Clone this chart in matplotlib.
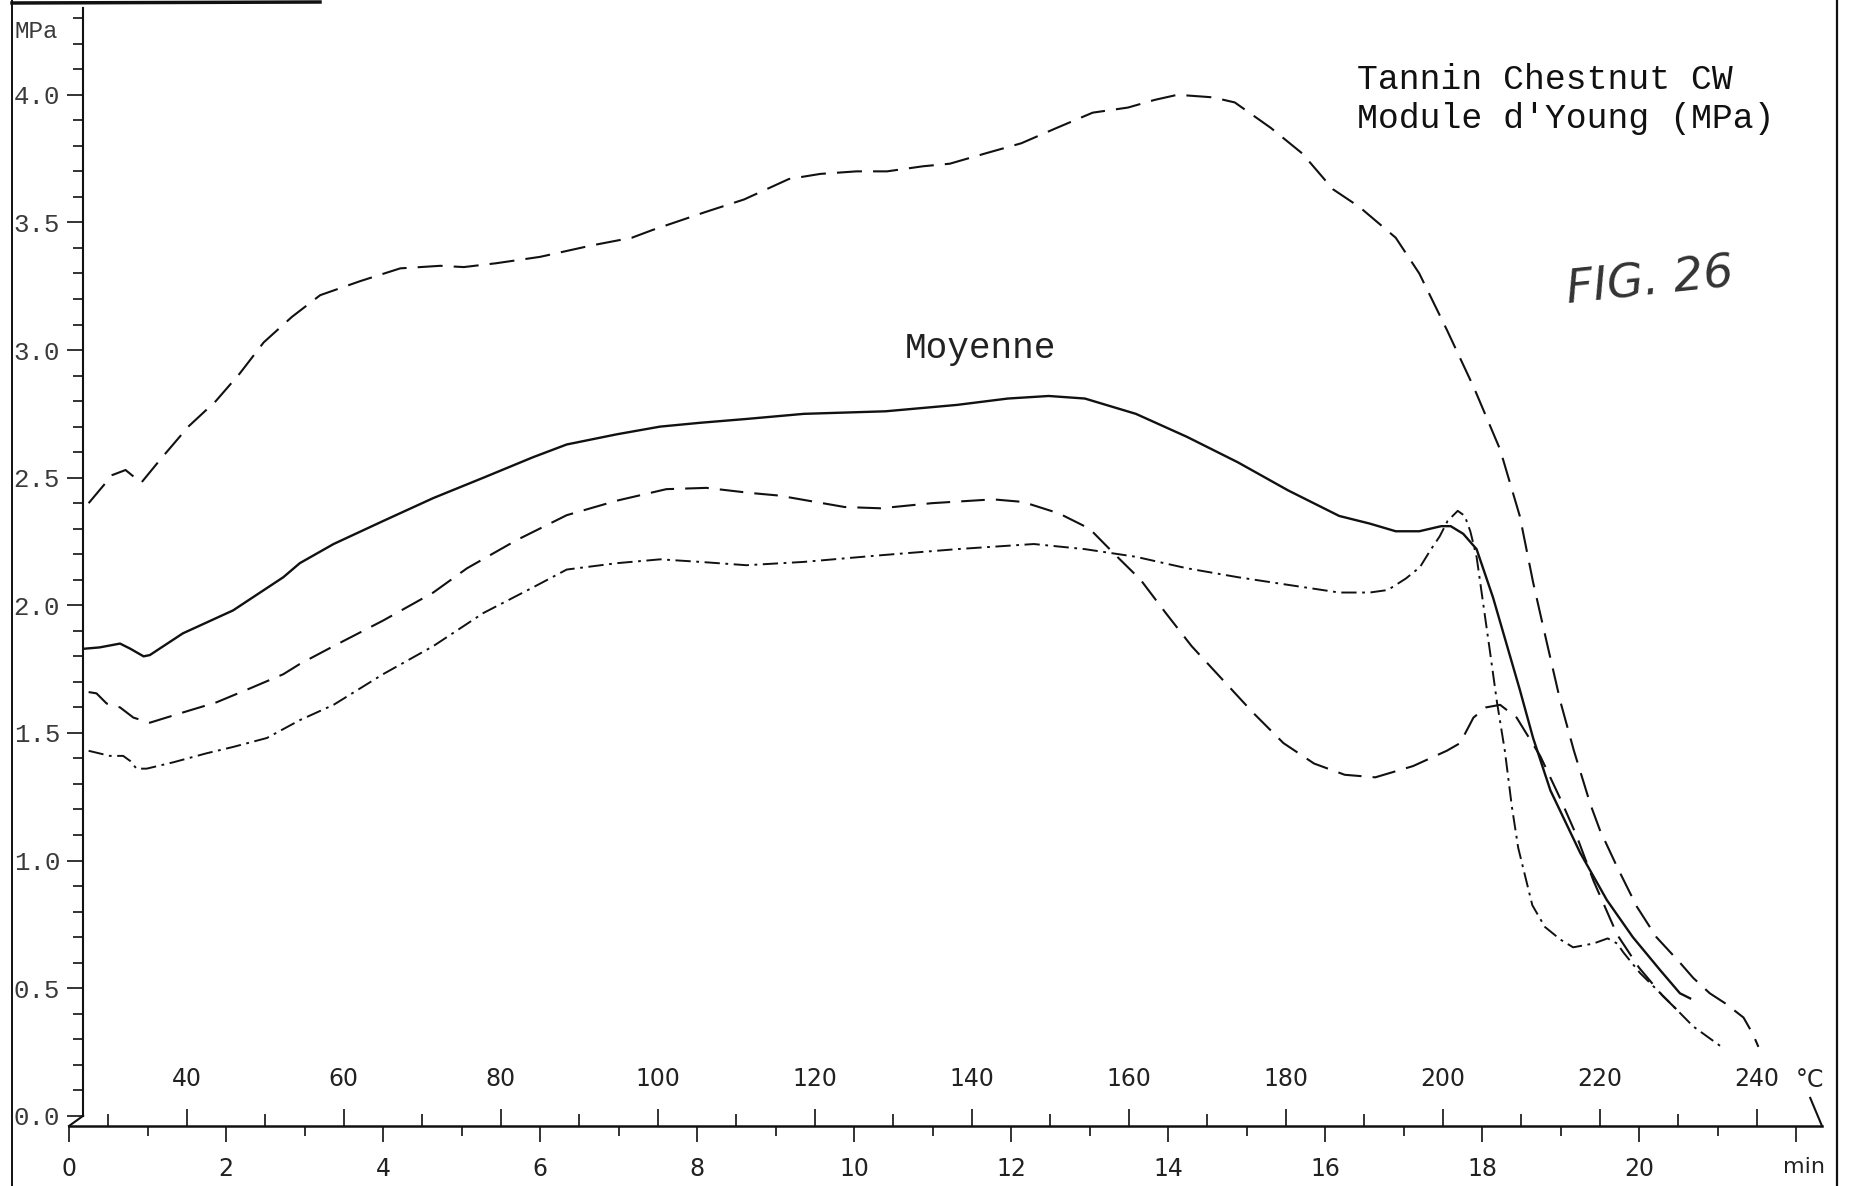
import matplotlib

matplotlib.use("Agg")
import matplotlib.pyplot as plt
import numpy as np
from matplotlib.lines import Line2D
from matplotlib.ticker import FixedLocator, FormatStrFormatter, FuncFormatter, MultipleLocator

# time (min) -> temperature (°C) of the heating ramp
T_START = 25.0
T_RATE = 10.0

# curves: time in min, Young's modulus in MPa
upper_t = [0.25, 0.55, 0.72, 0.92, 1.16, 1.52, 1.87, 2.18, 2.48, 2.84, 3.20, 3.71, 4.22,
           4.73, 5.03, 5.44, 6.00, 6.66, 7.17, 7.43, 8.10, 8.60, 9.17, 9.57, 10.03, 10.42,
           10.88, 11.22, 11.67, 12.13, 12.58, 13.04, 13.49, 13.83, 14.12, 14.57, 14.85,
           15.31, 15.71, 16.10, 16.44, 16.90, 17.20, 17.55, 17.90, 18.23, 18.48, 18.65,
           18.82, 19.00, 19.17, 19.38, 19.50, 19.72, 19.97, 20.22, 20.52, 20.69, 20.90,
           21.10, 21.33, 21.45, 21.52]
upper_mpa = [2.40, 2.51, 2.53, 2.48, 2.57, 2.70, 2.80, 2.91, 3.03, 3.13, 3.215, 3.27, 3.32,
             3.33, 3.325, 3.34, 3.365, 3.41, 3.44, 3.47, 3.54, 3.59, 3.67, 3.69, 3.70, 3.70,
             3.72, 3.73, 3.77, 3.81, 3.87, 3.93, 3.95, 3.98, 4.00, 3.99, 3.97,
             3.87, 3.77, 3.63, 3.56, 3.44, 3.30, 3.08, 2.85, 2.61, 2.35, 2.09,
             1.86, 1.62, 1.43, 1.22, 1.12, 0.975, 0.82, 0.70, 0.60, 0.54, 0.48,
             0.44, 0.385, 0.32, 0.27]

moyenne_t = [0.20, 0.39, 0.65, 0.78, 0.95, 1.03, 1.45, 2.09, 2.73, 2.94, 3.37, 4.00, 4.64,
             5.28, 5.91, 6.34, 6.98, 7.53, 8.04, 8.63, 9.36, 10.40, 11.31, 11.96, 12.48,
             12.94, 13.59, 14.24, 14.89, 15.53, 16.18, 16.57, 16.90, 17.20, 17.48, 17.60,
             17.76, 17.93, 18.14, 18.31, 18.48, 18.65, 18.87, 19.25, 19.59, 19.92, 20.27,
             20.52, 20.65]
moyenne_mpa = [1.83, 1.835, 1.85, 1.83, 1.80, 1.805, 1.89, 1.98, 2.11, 2.165, 2.24, 2.33, 2.42,
               2.50, 2.58, 2.63, 2.67, 2.70, 2.715, 2.73, 2.75, 2.76, 2.785, 2.81, 2.82,
               2.81, 2.75, 2.66, 2.56, 2.45, 2.35, 2.32, 2.29, 2.29, 2.31, 2.31,
               2.28, 2.22, 2.03, 1.85, 1.67, 1.48, 1.275, 1.03, 0.845, 0.70, 0.57,
               0.48, 0.46]

mid_t = [0.25, 0.35, 0.48, 0.65, 0.82, 1.03, 1.45, 1.88, 2.31, 2.73, 2.94, 3.37, 4.00, 4.64,
         5.07, 5.70, 6.34, 6.98, 7.61, 8.12, 8.68, 9.04, 9.88, 10.34, 10.99, 11.77, 12.15,
         12.61, 13.00, 13.32, 13.65, 13.97, 14.30, 14.69, 15.08, 15.47, 15.86, 16.25, 16.64,
         17.12, 17.55, 17.72, 17.89, 18.05, 18.23, 18.44, 18.74, 19.00, 19.20, 19.42, 19.72,
         20.00, 20.30, 20.50]
mid_mpa = [1.66, 1.655, 1.615, 1.60, 1.56, 1.54, 1.58, 1.62, 1.675, 1.73, 1.77, 1.84, 1.94, 2.05,
           2.145, 2.255, 2.353, 2.41, 2.455, 2.46, 2.44, 2.43, 2.385, 2.38, 2.40, 2.415, 2.405,
           2.36, 2.30, 2.20, 2.10, 1.97, 1.84, 1.71, 1.58, 1.46, 1.38, 1.336, 1.326,
           1.37, 1.43, 1.46, 1.56, 1.60, 1.61, 1.56, 1.41, 1.24, 1.10, 0.92, 0.71,
           0.58, 0.47, 0.41]

low_t = [0.25, 0.52, 0.69, 0.78, 0.86, 0.99, 1.33, 1.75, 2.09, 2.52, 2.94, 3.37, 4.00, 4.64,
         5.28, 5.91, 6.34, 6.98, 7.53, 8.04, 8.63, 9.36, 10.34, 11.31, 12.29, 12.94, 13.59,
         14.24, 14.89, 15.53, 16.18, 16.57, 16.80, 17.03, 17.21, 17.34, 17.46, 17.56, 17.69,
         17.78, 17.85, 17.93, 18.10, 18.19, 18.29, 18.38, 18.46, 18.64, 18.80, 19.00, 19.16,
         19.42, 19.60, 19.72, 19.80, 20.01, 20.37, 20.69, 21.05]
low_mpa = [1.43, 1.41, 1.41, 1.39, 1.36, 1.36, 1.385, 1.42, 1.445, 1.48, 1.55, 1.61, 1.73, 1.84,
           1.97, 2.07, 2.14, 2.165, 2.18, 2.17, 2.157, 2.17, 2.196, 2.22, 2.24, 2.22, 2.19,
           2.145, 2.11, 2.08, 2.05, 2.05, 2.06, 2.105, 2.15, 2.215, 2.27, 2.33, 2.37,
           2.35, 2.29, 2.19, 1.82, 1.62, 1.43, 1.21, 1.05, 0.825, 0.74, 0.69, 0.66,
           0.675, 0.695, 0.675, 0.64, 0.56, 0.45, 0.35, 0.27]

temp_major = list(range(40, 241, 20))
temp_minor = list(range(30, 231, 20))

W, H, DPI = 1855, 1186, 100
MONO = "Liberation Mono"
SANS = "DejaVu Sans"
INK = "#111111"


def to_celsius(t):
    return T_START + T_RATE * np.asarray(t, dtype=float)


def to_minutes(temp):
    return (np.asarray(temp, dtype=float) - T_START) / T_RATE


def main() -> None:
    plt.rcParams.update({
        "font.family": [MONO, "DejaVu Sans Mono"],
        "lines.scale_dashes": False,
        "axes.edgecolor": INK,
        "xtick.color": INK,
        "ytick.color": INK,
    })

    fig = plt.figure(figsize=(W / DPI, H / DPI), dpi=DPI)
    fig.patch.set_facecolor("white")
    ax = fig.add_axes([69 / W, 1 - 1126 / H, (1822 - 69) / W, (1126 - 8) / H])
    ax.set_xlim(0, 22.33)
    ax.set_ylim(-0.04, 4.34)
    ax.set_facecolor("none")

    ax.plot(upper_t, upper_mpa, color=INK, lw=1.5, dashes=(18, 8))
    ax.plot(moyenne_t, moyenne_mpa, color=INK, lw=1.7, linestyle="-")
    ax.plot(mid_t, mid_mpa, color=INK, lw=1.5, dashes=(17, 8))
    ax.plot(low_t, low_mpa, color=INK, lw=1.4, dashes=(11, 4, 2, 4))

    # y axis: sits a little right of t = 0, like the plotter output
    for side in ("top", "right"):
        ax.spines[side].set_visible(False)
    ax.spines["left"].set_position(("data", 0.18))
    ax.spines["left"].set_bounds(0, 4.34)
    ax.spines["left"].set_linewidth(1.5)
    ax.spines["bottom"].set_linewidth(1.8)
    ax.plot([0.18, 0.0], [0.0, -0.04], color=INK, lw=1.5, clip_on=False)
    ax.plot([22.18, 22.33], [0.07, -0.04], color=INK, lw=1.5, clip_on=False)

    ax.yaxis.set_major_locator(MultipleLocator(0.5))
    ax.yaxis.set_minor_locator(MultipleLocator(0.1))
    ax.yaxis.set_major_formatter(FormatStrFormatter("%.1f"))
    ax.tick_params(axis="y", which="major", direction="out", length=11.5, width=1.2,
                   pad=5, labelsize=18.5, labelcolor="#3a3a3a")
    ax.tick_params(axis="y", which="minor", direction="out", length=7, width=1.2)
    ax.text(14 / W, 1 - 38 / H, "MPa", transform=fig.transFigure, fontsize=17.5,
            color="#3a3a3a", ha="left", va="baseline")

    # time axis below, temperature ticks above the same line
    ax.xaxis.set_major_locator(MultipleLocator(2))
    ax.xaxis.set_minor_locator(MultipleLocator(1))
    ax.xaxis.set_major_formatter(FuncFormatter(lambda v, _: f"{v:.0f}" if v <= 20.5 else ""))
    ax.tick_params(axis="x", which="major", direction="out", length=11.5, width=1.2,
                   pad=11, labelsize=17, labelcolor="#222222")
    ax.tick_params(axis="x", which="minor", direction="out", length=7, width=1.2)
    for lab in ax.get_xticklabels():
        lab.set_family(SANS)

    sec = ax.secondary_xaxis(0, functions=(to_celsius, to_minutes))
    sec.set_alignment("top")
    for side in ("top", "bottom"):
        sec.spines[side].set_visible(False)
    sec.xaxis.set_major_locator(FixedLocator(temp_major))
    sec.xaxis.set_minor_locator(FixedLocator(temp_minor))
    sec.tick_params(which="major", direction="out", length=12.5, width=1.2, pad=13,
                    labelsize=17, labelcolor="#222222", top=True, bottom=False,
                    labeltop=True, labelbottom=False)
    sec.tick_params(which="minor", direction="out", length=8.5, width=1.2, top=True, bottom=False)
    for lab in sec.get_xticklabels():
        lab.set_family(SANS)

    ax.text(22.0, 0.14, "°C", fontsize=17, family=SANS, color="#222222",
            ha="left", va="center", clip_on=False)
    ax.text(21.83, -0.20, "min", fontsize=16, family=SANS, color="#222222",
            ha="left", va="center", clip_on=False)

    # titles and labels
    fig.text(1357 / W, 1 - 89 / H, "Tannin Chestnut CW", fontsize=25, color=INK,
             ha="left", va="baseline")
    fig.text(1357 / W, 1 - 128 / H, "Module d'Young (MPa)", fontsize=25, color=INK,
             ha="left", va="baseline")
    fig.text(980 / W, 1 - 358 / H, "Moyenne", fontsize=26, color="#222222",
             ha="center", va="baseline")
    fig.text(1650 / W, 1 - 282 / H, "FIG. 26", fontsize=34, family=SANS, style="italic",
             color="#333333", ha="center", va="center", rotation=6)

    # scan frame pieces
    fig.add_artist(Line2D([12 / W, 12 / W], [0, 1], transform=fig.transFigure, color=INK, lw=1.4))
    fig.add_artist(Line2D([1837 / W, 1837 / W], [0, 1], transform=fig.transFigure, color=INK, lw=1.6))
    fig.add_artist(Line2D([12 / W, 320 / W], [1 - 3 / H, 1 - 2 / H], transform=fig.transFigure,
                          color=INK, lw=2.5))

    fig.savefig("out.png", dpi=DPI, facecolor="white")
    plt.close(fig)


if __name__ == "__main__":
    main()
